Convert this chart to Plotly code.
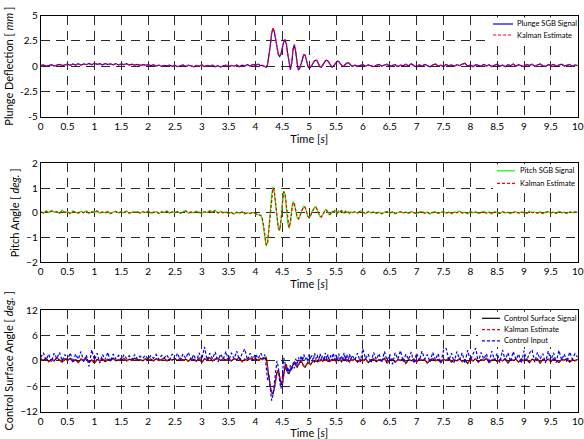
import plotly.graph_objects as go

# ---------------- sample time grid ----------------
t_pre = [round(i * 0.05, 3) for i in range(83)]            # 0.00 .. 4.10
t_mid = [round(4.125 + i * 0.025, 3) for i in range(68)]   # 4.125 .. 5.80
t_post = [round(5.85 + i * 0.05, 3) for i in range(84)]    # 5.85 .. 10.0
time_s = t_pre + t_mid + t_post

x_tick_vals = [0, 0.5, 1, 1.5, 2, 2.5, 3, 3.5, 4, 4.5, 5, 5.5, 6, 6.5, 7, 7.5, 8, 8.5, 9, 9.5, 10]
x_tick_text = ["0", "0.5", "1", "1.5", "2", "2.5", "3", "3.5", "4", "4.5", "5",
               "5.5", "6", "6.5", "7", "7.5", "8", "8.5", "9", "9.5", "10"]
plunge_ticks = [-5, -2.5, 0, 2.5, 5]
plunge_tick_text = ["-5", "-2.5", "0", "2.5", "5"]
pitch_ticks = [-2, -1, 0, 1, 2]
cs_ticks = [-12, -6, 0, 6, 12]

# ---------------- plunge [mm] ----------------
plunge_sgb = [
    0.05, 0.12, -0.02, 0.08, 0.15, 0.02, 0.10, 0.18, 0.05, 0.12,
    0.20, 0.08, 0.22, 0.12, 0.25, 0.10, 0.22, 0.15, 0.28, 0.14,
    0.30, 0.18, 0.26, 0.12, 0.28, 0.16, 0.24, 0.14, 0.26, 0.12,
    0.22, 0.15, 0.25, 0.12, 0.20, 0.10, 0.18, 0.08, 0.16, 0.10,
    0.14, 0.06, 0.12, 0.02, 0.10, 0.00, 0.08, 0.03, 0.10, -0.02,
    0.08, -0.05, 0.06, 0.12, -0.04, 0.10, 0.02, -0.06, 0.08, 0.00,
    0.12, -0.04, 0.08, 0.02, 0.10, -0.05, 0.06, -0.08, 0.04, 0.10,
    -0.05, 0.08, 0.00, 0.12, -0.06, 0.10, 0.04, 0.15, 0.02, 0.18,
    0.08, 0.20, 0.05,
    # 4.125 .. 5.80
    0.10, 0.02, -0.08, -0.10, 0.15, 0.90, 2.00, 3.20, 3.75, 3.40,
    2.60, 1.70, 1.15, 0.95, 1.20, 1.80, 2.40, 2.60, 2.20, 1.20,
    0.20, -0.35, 0.30, 1.70, 2.10, 1.40, 0.30, -0.40, -0.20, 0.30,
    0.80, 1.15, 1.10, 0.60, 0.00, -0.20, -0.10, 0.10, 0.35, 0.55,
    0.60, 0.50, 0.20, -0.05, -0.10, 0.05, 0.30, 0.50, 0.60, 0.50,
    0.25, 0.00, -0.10, 0.00, 0.20, 0.40, 0.50, 0.45, 0.25, 0.05,
    -0.05, 0.05, 0.20, 0.32, 0.35, 0.25, 0.10, 0.00,
    # 5.85 .. 10.0
    0.10, -0.02, 0.08, 0.15, 0.00, 0.12, 0.05, -0.05, 0.10,
    0.18, 0.02, 0.12, 0.20, 0.00, 0.08, 0.15, -0.04, 0.10, 0.05,
    0.20, 0.02, 0.25, 0.05, -0.08, 0.15, 0.00, 0.18, 0.08, -0.05,
    0.12, 0.22, 0.00, 0.10, -0.06, 0.18, 0.04, 0.12, -0.02, 0.15,
    0.05, 0.22, 0.30, 0.00, 0.12, -0.05, 0.15, 0.08, 0.00, 0.18,
    0.02, 0.14, -0.04, 0.10, 0.20, 0.00, 0.12, -0.06, 0.16, 0.05,
    0.22, 0.00, 0.15, 0.05, -0.05, 0.18, 0.08, 0.20, 0.00, 0.12,
    0.22, 0.05, -0.04, 0.15, 0.08, 0.18, 0.00, 0.12, 0.20, 0.02,
    0.10, 0.18, -0.02, 0.12, 0.05,
]
plunge_kalman = [
    0.08, 0.10, 0.02, 0.06, 0.12, 0.05, 0.08, 0.15, 0.08, 0.10,
    0.18, 0.10, 0.20, 0.14, 0.22, 0.12, 0.20, 0.17, 0.25, 0.16,
    0.27, 0.20, 0.24, 0.15, 0.26, 0.18, 0.22, 0.16, 0.24, 0.15,
    0.20, 0.16, 0.22, 0.14, 0.18, 0.12, 0.16, 0.10, 0.15, 0.11,
    0.12, 0.08, 0.10, 0.04, 0.09, 0.02, 0.07, 0.04, 0.08, 0.00,
    0.06, -0.03, 0.05, 0.10, -0.02, 0.08, 0.03, -0.04, 0.06, 0.01,
    0.10, -0.02, 0.06, 0.03, 0.08, -0.03, 0.05, -0.06, 0.03, 0.08,
    -0.03, 0.06, 0.01, 0.10, -0.04, 0.08, 0.05, 0.13, 0.04, 0.16,
    0.10, 0.18, 0.06,
    # 4.125 .. 5.80
    0.08, 0.03, -0.05, -0.08, 0.20, 0.95, 2.05, 3.25, 3.80, 3.45,
    2.65, 1.75, 1.20, 1.00, 1.25, 1.85, 2.45, 2.65, 2.25, 1.25,
    0.25, -0.30, 0.35, 1.75, 2.15, 1.45, 0.35, -0.35, -0.15, 0.30,
    0.80, 1.18, 1.12, 0.62, 0.02, -0.18, -0.08, 0.12, 0.36, 0.56,
    0.62, 0.52, 0.22, -0.03, -0.08, 0.07, 0.30, 0.52, 0.62, 0.52,
    0.27, 0.02, -0.08, 0.02, 0.22, 0.42, 0.52, 0.46, 0.27, 0.07,
    -0.03, 0.06, 0.20, 0.33, 0.36, 0.26, 0.12, 0.02,
    # 5.85 .. 10.0
    0.08, 0.00, 0.07, 0.13, 0.02, 0.10, 0.06, -0.03, 0.08,
    0.16, 0.04, 0.10, 0.18, 0.02, 0.07, 0.13, -0.02, 0.08, 0.06,
    0.18, 0.04, 0.22, 0.06, -0.05, 0.13, 0.02, 0.16, 0.08, -0.03,
    0.10, 0.20, 0.02, 0.09, -0.04, 0.16, 0.05, 0.11, 0.00, 0.13,
    0.06, 0.20, 0.27, 0.02, 0.11, -0.03, 0.13, 0.08, 0.02, 0.16,
    0.04, 0.12, -0.02, 0.09, 0.18, 0.02, 0.11, -0.04, 0.14, 0.06,
    0.20, 0.02, 0.13, 0.06, -0.03, 0.16, 0.08, 0.18, 0.02, 0.11,
    0.20, 0.06, -0.02, 0.13, 0.08, 0.16, 0.02, 0.11, 0.18, 0.04,
    0.09, 0.16, 0.00, 0.11, 0.06,
]

# ---------------- pitch [deg.] ----------------
pitch_sgb = [
    0.05, -0.02, 0.08, 0.00, 0.10, 0.02, 0.06, -0.03, 0.12, 0.01,
    0.04, -0.04, 0.07, 0.02, -0.02, 0.06, 0.00, 0.08, -0.03, 0.05,
    0.02, 0.09, -0.02, 0.04, 0.00, 0.06, -0.04, 0.03, 0.07, -0.01,
    0.05, 0.00, 0.08, -0.03, 0.04, 0.02, 0.06, -0.02, 0.05, 0.01,
    0.07, -0.02, 0.03, 0.06, -0.04, 0.05, 0.01, 0.08, -0.02, 0.04,
    0.00, 0.06, -0.03, 0.05, 0.09, -0.02, 0.04, 0.00, 0.07, 0.02,
    -0.03, 0.05, 0.01, 0.09, 0.03, 0.10, -0.02, 0.06, 0.00, 0.04,
    -0.04, 0.02, -0.06, 0.03, -0.02, 0.05, -0.05, 0.01, -0.03, 0.02,
    -0.05, -0.08, -0.12,
    # 4.125 .. 5.80
    -0.25, -0.55, -1.00, -1.35, -1.20, -0.60, 0.10, 0.70, 1.05, 0.85,
    0.30, -0.30, -0.65, -0.72, -0.30, 0.40, 0.88, 0.75, 0.20, -0.40,
    -0.63, -0.35, 0.20, 0.45, 0.35, 0.05, -0.20, -0.26, -0.15, 0.05,
    0.20, 0.27, 0.22, 0.02, -0.15, -0.22, -0.12, 0.05, 0.15, 0.22,
    0.24, 0.12, -0.05, -0.15, -0.18, -0.08, 0.05, 0.12, 0.10, 0.00,
    -0.08, -0.05, 0.06, 0.02, 0.10, 0.04, -0.03, 0.08, 0.02, 0.10,
    0.03, -0.02, 0.07, 0.01, 0.05, -0.03, 0.04, 0.00,
    # 5.85 .. 10.0
    0.05, -0.02, 0.08, 0.01, -0.04, 0.06, 0.00, 0.04, -0.03,
    0.03, -0.05, 0.02, 0.06, -0.02, 0.04, -0.04, 0.02, 0.05, -0.01,
    0.03, -0.03, 0.05, 0.00, -0.04, 0.02, 0.06, -0.02, 0.03, -0.05,
    0.02, 0.05, -0.03, 0.01, 0.06, -0.02, 0.03, -0.04, 0.04, 0.00,
    0.07, -0.02, 0.03, -0.04, 0.05, 0.00, 0.04, -0.03, 0.02, 0.06,
    -0.02, 0.03, -0.05, 0.04, 0.01, -0.03, 0.05, 0.00, 0.03, -0.04,
    0.02, 0.05, -0.02, 0.04, 0.00, -0.03, 0.06, 0.01, 0.03, -0.02,
    0.04, -0.04, 0.02, 0.05, -0.01, 0.03, -0.03, 0.06, 0.00, 0.02,
    -0.03, 0.04, 0.01, 0.05, 0.00,
]
pitch_kalman = [
    0.03, 0.00, 0.05, 0.01, 0.07, 0.03, 0.04, -0.01, 0.08, 0.02,
    0.03, -0.02, 0.05, 0.02, 0.00, 0.04, 0.01, 0.06, -0.01, 0.04,
    0.02, 0.06, 0.00, 0.03, 0.01, 0.04, -0.02, 0.02, 0.05, 0.00,
    0.04, 0.01, 0.06, -0.01, 0.03, 0.02, 0.04, 0.00, 0.04, 0.01,
    0.05, 0.00, 0.02, 0.04, -0.02, 0.04, 0.01, 0.06, 0.00, 0.03,
    0.01, 0.04, -0.01, 0.04, 0.07, 0.00, 0.03, 0.01, 0.05, 0.02,
    -0.01, 0.04, 0.01, 0.07, 0.03, 0.08, 0.00, 0.04, 0.01, 0.03,
    -0.02, 0.01, -0.04, 0.02, -0.01, 0.03, -0.03, 0.00, -0.02, 0.01,
    -0.04, -0.07, -0.10,
    # 4.125 .. 5.80
    -0.22, -0.50, -0.95, -1.30, -1.22, -0.65, 0.05, 0.65, 1.00, 0.88,
    0.35, -0.25, -0.60, -0.70, -0.35, 0.35, 0.85, 0.78, 0.25, -0.35,
    -0.60, -0.38, 0.15, 0.42, 0.36, 0.08, -0.17, -0.24, -0.16, 0.03,
    0.18, 0.25, 0.22, 0.04, -0.13, -0.20, -0.13, 0.03, 0.14, 0.20,
    0.22, 0.13, -0.03, -0.13, -0.17, -0.09, 0.03, 0.11, 0.10, 0.01,
    -0.06, -0.05, 0.04, 0.03, 0.08, 0.04, -0.01, 0.06, 0.03, 0.08,
    0.03, 0.00, 0.05, 0.02, 0.04, -0.01, 0.03, 0.01,
    # 5.85 .. 10.0
    0.04, 0.00, 0.06, 0.02, -0.02, 0.04, 0.01, 0.03, -0.01,
    0.02, -0.03, 0.02, 0.04, -0.01, 0.03, -0.02, 0.02, 0.04, 0.00,
    0.02, -0.02, 0.04, 0.01, -0.02, 0.02, 0.04, -0.01, 0.02, -0.03,
    0.02, 0.04, -0.01, 0.01, 0.04, -0.01, 0.02, -0.02, 0.03, 0.01,
    0.05, 0.00, 0.02, -0.02, 0.04, 0.01, 0.03, -0.01, 0.02, 0.04,
    -0.01, 0.02, -0.03, 0.03, 0.01, -0.02, 0.04, 0.01, 0.02, -0.02,
    0.02, 0.04, -0.01, 0.03, 0.01, -0.02, 0.04, 0.01, 0.02, -0.01,
    0.03, -0.02, 0.02, 0.04, 0.00, 0.02, -0.02, 0.04, 0.01, 0.02,
    -0.01, 0.03, 0.01, 0.03, 0.01,
]

# ---------------- control surface [deg.] ----------------
cs_kalman = [
    0.5, 0.1, 0.6, -0.2, 0.4, 0.0, 0.7, 0.2, -0.3, 0.5,
    0.1, 0.6, -0.2, 0.3, -0.4, 0.4, 0.0, 0.6, -0.3, 0.2,
    -0.5, 0.3, 0.0, 0.5, -0.2, 0.4, 0.1, 0.6, 0.0, 0.3,
    0.2, 0.5, 0.0, 0.4, 0.1, 0.6, 0.2, 0.3, 0.0, 0.5,
    0.2, 0.4, 0.0, 0.5, 0.1, 0.3, 0.6, 0.0, 0.4, 0.2,
    0.5, 0.1, 0.6, 0.2, 0.4, -0.1, 0.5, 0.3, 0.0, 0.6,
    -0.4, 0.5, 0.2, 0.7, 0.0, 0.4, 0.6, 0.1, 0.5, 0.2,
    0.6, 0.0, 0.5, 0.3, 0.7, -0.2, 0.4, 0.1, 0.6, 0.2,
    0.5, 0.1, 0.6,
    # 4.125 .. 5.80
    0.3, 0.7, 0.6, 0.8, -1.5, -4.0, -6.0, -7.5, -7.8, -6.5,
    -4.5, -2.8, -2.2, -3.5, -5.5, -5.6, -3.0, -1.2, -1.0, -2.8,
    -3.0, -2.0, -1.6, -0.8, -0.2, -1.0, -1.5, -0.9, -0.3, 0.0,
    -0.6, -1.3, -1.5, -1.0, -0.4, -0.6, -0.9, -0.4, 0.0, -0.3,
    0.2, -0.2, 0.3, 0.0, 0.4, -0.1, 0.3, 0.1, 0.5, -0.2,
    0.3, 0.0, 0.4, 0.1, 0.5, -0.1, 0.3, 0.0, 0.4, -0.2,
    0.3, 0.1, 0.5, 0.0, 0.3, -0.2, 0.4, 0.1,
    # 5.85 .. 10.0
    0.4, -0.3, 0.3, 0.0, 0.5, -0.4, 0.2, 0.5, -0.2,
    0.3, 0.0, 0.6, -0.5, 0.2, 0.4, -0.3, 0.3, 0.1, 0.5,
    -0.6, 0.3, 0.0, 0.4, -0.3, 0.5, 0.1, 0.3, -0.5, 0.2,
    0.5, 0.0, 0.3, -0.4, 0.4, 0.1, 0.6, -0.3, 0.2, 0.0,
    0.5, -0.2, 0.3, -0.6, 0.4, 0.0, 0.5, -0.3, 0.3, 0.1,
    0.6, -0.4, 0.2, 0.4, -0.2, 0.3, 0.0, 0.5, -0.5, 0.3,
    0.1, 0.4, -0.3, 0.5, 0.0, 0.3, -0.4, 0.4, 0.1, 0.5,
    -0.5, 0.3, 0.0, 0.4, -0.2, 0.5, 0.1, -0.4, 0.3, 0.2,
    0.5, -0.3, 0.3, 0.0, 0.4,
]
cs_signal = list(cs_kalman)  # measured signal lies underneath the estimate
control_input = [
    0.8, 1.9, 0.2, 1.6, -0.3, 1.8, 0.5, 2.0, 0.0, 1.5,
    0.3, 1.9, -0.4, 1.6, 0.4, 2.2, -0.2, 1.4, -1.3, 2.6,
    0.2, 1.8, -0.5, 1.5, 0.3, 2.0, -0.2, 1.6, 0.4, 1.3,
    0.2, 1.4, 0.5, 1.2, 0.3, 1.5, 0.4, 1.1, 0.6, 1.3,
    0.4, 1.2, 0.6, 1.5, 0.3, 1.3, 0.7, 1.4, 0.2, 1.6,
    0.5, 1.8, 0.1, 1.6, 0.6, 2.0, 0.2, 1.5, -0.2, 1.9,
    0.3, 3.3, 0.2, 1.8, 0.5, 2.1, -0.3, 1.6, 0.4, 2.2,
    0.0, 1.9, 0.5, 2.3, 0.1, 1.7, 2.8, 0.2, 1.8, 0.4,
    1.6, 0.5, 1.8,
    # 4.125 .. 5.80
    1.2, 0.4, 1.5, -1.0, -4.5, -3.5, -6.5, -9.4, -8.0, -5.0,
    -2.0, 0.0, -1.5, -5.0, -6.5, -4.0, 0.7, -0.5, -2.5, -1.5,
    -2.8, -1.0, -2.3, -0.5, -1.8, 0.5, -1.0, 0.8, -0.5, 1.2,
    0.0, 1.5, 0.3, 1.0, -0.3, 1.6, 0.4, 1.3, 0.0, 1.8,
    0.5, 1.4, -0.2, 1.7, 0.6, 1.2, 0.0, 1.9, 0.4, 1.5,
    -0.3, 1.3, 0.8, 1.8, 0.2, 1.4, -0.1, 1.7, 0.5, 1.2,
    0.0, 1.9, 0.3, 1.5, -0.2, 1.6, 0.4, 1.3,
    # 5.85 .. 10.0
    0.2, 1.8, -0.3, 2.8, 0.5, 1.6, -0.5, 2.0, 0.3,
    1.7, -0.4, 2.2, 0.1, 1.5, -0.8, 1.9, 0.4, 2.4, -0.2,
    1.6, 0.3, 2.1, -0.6, 1.8, 0.0, 2.3, 0.4, 1.5, -0.3,
    2.0, 0.2, 1.7, -0.5, 2.4, 3.0, 0.1, 1.8, -0.4, 2.2,
    0.3, 1.9, -0.6, 2.5, 0.0, 1.6, 3.0, -0.3, 2.0, 0.4,
    1.7, -0.5, 2.3, 0.2, 1.8, -0.4, 2.6, 0.1, 1.9, -0.2,
    2.2, 0.3, 1.6, -0.6, 2.4, 0.0, 1.8, 2.6, -0.3, 2.0,
    0.4, 1.7, -0.5, 2.3, 0.1, 1.9, -0.4, 2.5, 0.2, 1.6,
    -0.3, 2.1, 0.4, 1.7, 0.8,
]

for name, arr in [("plunge_sgb", plunge_sgb), ("plunge_kalman", plunge_kalman),
                  ("pitch_sgb", pitch_sgb), ("pitch_kalman", pitch_kalman),
                  ("cs_kalman", cs_kalman), ("control_input", control_input)]:
    assert len(arr) == len(time_s), (name, len(arr), len(time_s))

# ---------------- styles ----------------
BLUE, RED, GREEN, BLACK = "#0000FF", "#FF0000", "#00FF00", "#000000"
DASH = "3px,2px"

# legend entries per panel: (label, color, dash)
legend1 = [("Plunge SGB Signal", BLUE, "solid"), ("Kalman Estimate", RED, DASH)]
legend2 = [("Pitch SGB Signal", GREEN, "solid"), ("Kalman Estimate", RED, DASH)]
legend3 = [("Control Surface Signal", BLACK, "solid"), ("Kalman Estimate", RED, DASH),
           ("Control Input", BLUE, DASH)]

# ---------------- figure ----------------
W, H = 584, 439
FONT = "Lato"
PX_L, PX_R = 40.7, 577.7
panels_px = [(15.7, 116.7), (163.3, 262.3), (310.0, 411.7)]  # top, bottom in pixels


def fx(p):
    return p / W


def fy(p):
    return 1 - p / H


xdom = [fx(PX_L), fx(PX_R)]
doms = [[fy(b), fy(t)] for t, b in panels_px]

fig = go.Figure()
fig.add_trace(go.Scatter(x=time_s, y=plunge_sgb, mode="lines", name="Plunge SGB Signal",
                         line=dict(color=BLUE, width=1.2), xaxis="x", yaxis="y"))
fig.add_trace(go.Scatter(x=time_s, y=plunge_kalman, mode="lines", name="Kalman Estimate",
                         line=dict(color=RED, width=1.2, dash=DASH), xaxis="x", yaxis="y"))
fig.add_trace(go.Scatter(x=time_s, y=pitch_sgb, mode="lines", name="Pitch SGB Signal",
                         line=dict(color=GREEN, width=1.2), xaxis="x2", yaxis="y2"))
fig.add_trace(go.Scatter(x=time_s, y=pitch_kalman, mode="lines", name="Kalman Estimate",
                         line=dict(color=RED, width=1.2, dash=DASH), xaxis="x2", yaxis="y2"))
fig.add_trace(go.Scatter(x=time_s, y=cs_signal, mode="lines", name="Control Surface Signal",
                         line=dict(color=BLACK, width=1.2), xaxis="x3", yaxis="y3"))
fig.add_trace(go.Scatter(x=time_s, y=cs_kalman, mode="lines", name="Kalman Estimate",
                         line=dict(color=RED, width=1.3, dash=DASH), xaxis="x3", yaxis="y3"))
fig.add_trace(go.Scatter(x=time_s, y=control_input, mode="lines", name="Control Input",
                         line=dict(color=BLUE, width=1.2, dash=DASH), xaxis="x3", yaxis="y3"))

axis_common = dict(showline=True, linecolor="black", linewidth=1, mirror=True, automargin=False,
                   showgrid=True, gridcolor="#2a2a2a", gridwidth=1, griddash="9px,6px",
                   zeroline=False, ticks="", tickfont=dict(family=FONT, size=10, color="black"))
xcommon = dict(axis_common, range=[0, 10], tickvals=x_tick_vals, ticktext=x_tick_text,
               domain=xdom, title=dict(text="Time [<i>s</i>]", font=dict(family=FONT, size=11, color="black"),
                                       standoff=0))
ytitle_font = dict(family=FONT, size=11, color="black")

fig.update_layout(
    width=W, height=H, margin=dict(l=0, r=0, t=0, b=0),
    paper_bgcolor="white", plot_bgcolor="white", showlegend=False,
    xaxis=dict(xcommon, anchor="y"),
    xaxis2=dict(xcommon, anchor="y2"),
    xaxis3=dict(xcommon, anchor="y3"),
    yaxis=dict(axis_common, domain=doms[0], range=[-5, 5], tickvals=plunge_ticks, ticktext=plunge_tick_text,
               anchor="x", title=dict(text="Plunge Deflection [ <i>mm</i> ]", font=ytitle_font, standoff=4)),
    yaxis2=dict(axis_common, domain=doms[1], range=[-2, 2], tickvals=pitch_ticks,
                anchor="x2", title=dict(text="Pitch Angle [ <i>deg.</i> ]", font=ytitle_font, standoff=4)),
    yaxis3=dict(axis_common, domain=doms[2], range=[-12, 12], tickvals=cs_ticks,
                anchor="x3", title=dict(text="Control Surface Angle [ <i>deg.</i> ]", font=ytitle_font, standoff=4)),
)

# ---------------- compact in-axes legends (MATLAB style) ----------------
# (box left px, sample line start px, sample line end px, text start px, first row y px, row step px)
legend_layout = [
    (490.0, 493.0, 513.0, 515.0, panels_px[0][0] + 8.3, 11.0, legend1),
    (493.0, 497.0, 515.0, 518.0, panels_px[1][0] + 7.5, 12.5, legend2),
    (478.0, 482.0, 500.0, 502.0, panels_px[2][0] + 8.3, 11.3, legend3),
]
shapes = []
annotations = []
for (box_l, ln0, ln1, tx0, y0, step, entries) in legend_layout:
    top = y0 - 7.5
    bottom = y0 + step * (len(entries) - 1) + 6.0
    shapes.append(dict(type="rect", xref="paper", yref="paper",
                       x0=fx(box_l), x1=fx(PX_R - 1), y0=fy(bottom), y1=fy(top + 1),
                       fillcolor="white", line=dict(width=0), layer="above"))
    for i, (label, color, dash) in enumerate(entries):
        yy = y0 + i * step
        shapes.append(dict(type="line", xref="paper", yref="paper",
                           x0=fx(ln0), x1=fx(ln1), y0=fy(yy), y1=fy(yy),
                           line=dict(color=color, width=1.2, dash=dash), layer="above"))
        annotations.append(dict(xref="paper", yref="paper", x=fx(tx0), y=fy(yy),
                                xanchor="left", yanchor="middle", text=label, showarrow=False,
                                font=dict(family=FONT, size=7.5, color="black")))
fig.update_layout(shapes=shapes, annotations=annotations)

fig.write_html("out.html")
